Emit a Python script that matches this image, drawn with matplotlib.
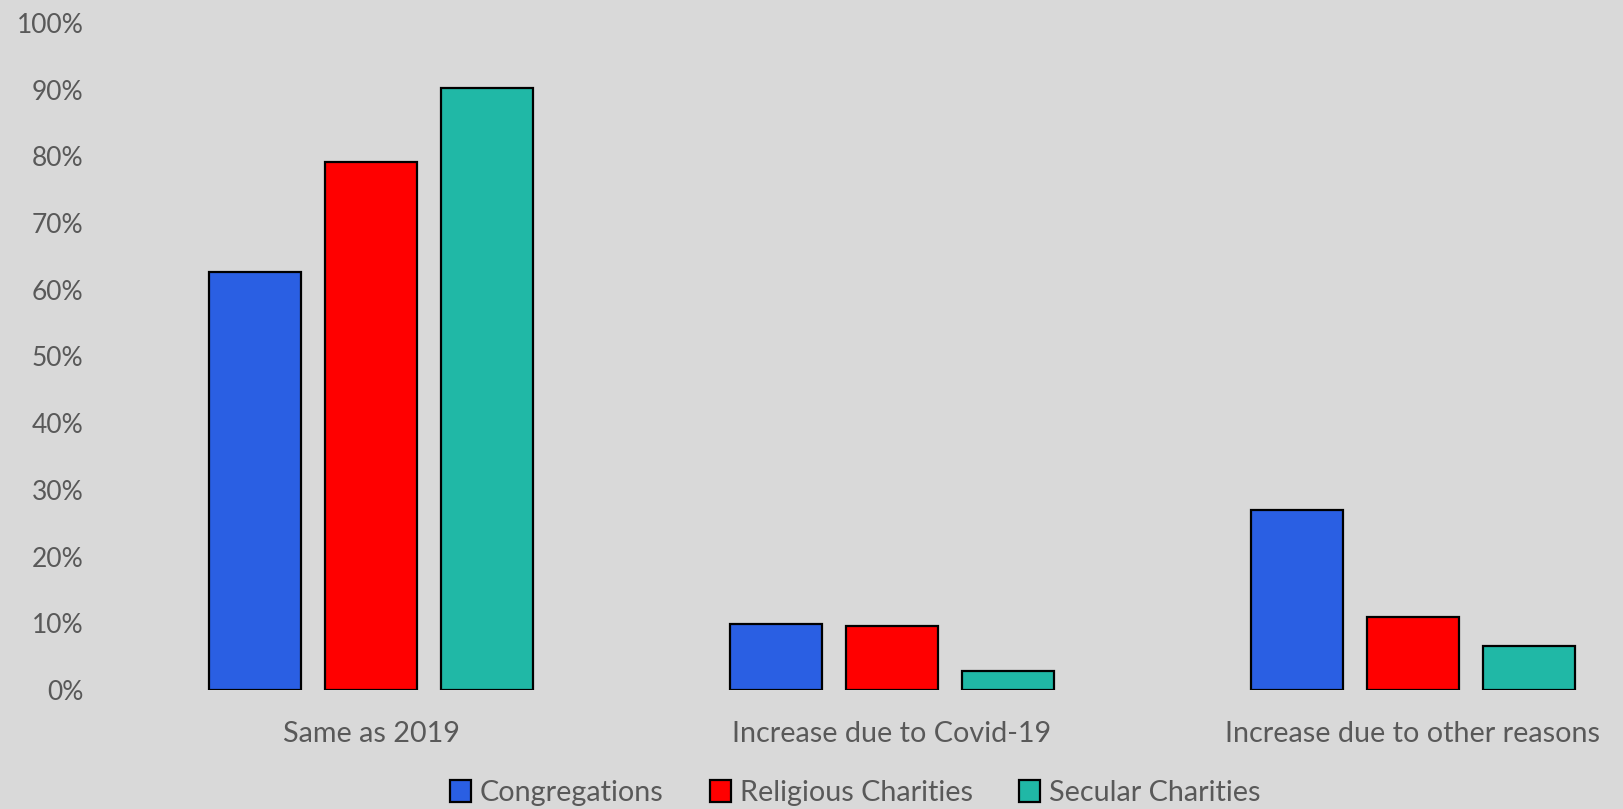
import matplotlib
matplotlib.use('Agg')
import matplotlib.pyplot as plt
import numpy as np

categories = ['Same as 2019', 'Increase due to Covid-19', 'Increase due to other reasons']
congregations = [0.627, 0.099, 0.270]
religious = [0.791, 0.096, 0.110]
secular = [0.902, 0.029, 0.066]
series_names = ['Congregations', 'Religious Charities', 'Secular Charities']
colors = ['#2A5FE3', '#FF0000', '#20B8A6']

plt.rcParams['font.family'] = ['Lato', 'DejaVu Sans']
bg = '#D9D9D9'
txt = '#595959'

fig = plt.figure(figsize=(16.24, 8.09), dpi=100, facecolor=bg)
ax = fig.add_axes([100 / 1624, 1 - 690 / 809, 1 - 100 / 1624, (690 - 23) / 809])
ax.set_facecolor(bg)

x = np.arange(len(categories))
step = 0.222
width = 0.176
for i, (vals, name, c) in enumerate(zip([congregations, religious, secular], series_names, colors)):
    ax.bar(x + (i - 1) * step, vals, width=width, color=c, edgecolor='black', linewidth=1.6, label=name)

ax.set_ylim(0, 1.0)
ax.set_xlim((100 - 371) / 521, (1624 - 371) / 521)
ax.set_yticks(np.arange(0, 1.01, 0.1))
ax.set_yticklabels([f'{int(round(v * 100))}%' for v in np.arange(0, 1.01, 0.1)])
ax.set_xticks(x)
ax.set_xticklabels(categories)
for s in ax.spines.values():
    s.set_visible(False)
ax.tick_params(axis='both', length=0, colors=txt, labelsize=19)
ax.tick_params(axis='x', labelsize=20.7, pad=22)
ax.tick_params(axis='y', pad=12)

fig.legend(loc='center', bbox_to_anchor=(855 / 1624, 1 - 793 / 809), ncol=3, frameon=False,
           fontsize=20.7, labelcolor=txt, handlelength=0.75, handleheight=0.75, handletextpad=0.3,
           columnspacing=1.6)

fig.savefig('out.png', dpi=100, facecolor=bg)
